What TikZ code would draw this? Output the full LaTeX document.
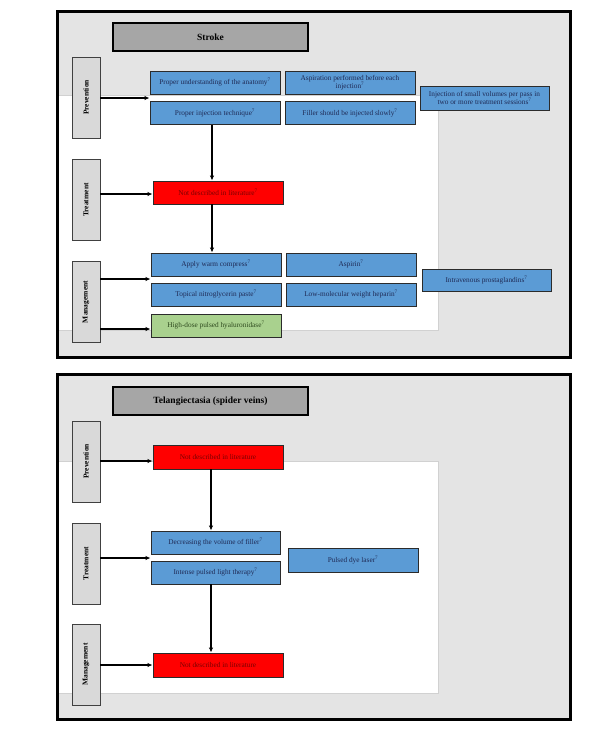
\documentclass[tikz,border=0pt]{standalone}
\usepackage{fontspec}
\setmainfont{Liberation Serif}
\usetikzlibrary{arrows.meta}
\definecolor{bgray}{HTML}{E4E4E4}
\definecolor{hdrgray}{HTML}{A6A6A6}
\definecolor{lblgray}{HTML}{D9D9D9}
\definecolor{boxblue}{HTML}{5B9BD5}
\definecolor{txtblue}{HTML}{1F2A55}
\definecolor{boxred}{HTML}{FF0000}
\definecolor{txtred}{HTML}{7A0000}
\definecolor{boxgreen}{HTML}{A9D18E}
\definecolor{txtgreen}{HTML}{2E4A1E}
\definecolor{edgedark}{HTML}{2B2B2B}
\tikzset{
  panel/.style={draw=black, line width=3pt, fill=bgray},
  whitearea/.style={draw=black!18, line width=0.6pt, fill=white},
  hdr/.style={draw=black, line width=1.5pt, fill=hdrgray, minimum width=195pt, minimum height=28pt, inner sep=0pt, font=\fontsize{9.5}{11}\selectfont\bfseries},
  lbl/.style={draw=black!75, line width=0.9pt, fill=lblgray, minimum width=81pt, minimum height=28pt, inner sep=0pt, rotate=90, font=\fontsize{7.5}{8.5}\selectfont\bfseries, text=black},
  basebox/.style={draw=edgedark, line width=0.9pt, minimum width=130pt, minimum height=23pt, inner sep=0pt, align=center, font=\fontsize{7.3}{8.3}\selectfont},
  bluebox/.style={basebox, fill=boxblue, text=txtblue},
  redbox/.style={basebox, fill=boxred, text=txtred},
  greenbox/.style={basebox, fill=boxgreen, text=txtgreen},
  arr/.style={draw=black, line width=1.3pt, -{Latex[length=5pt,width=4.5pt]}}
}
\newcommand{\rf}{\textsuperscript{7}}
\begin{document}
\begin{tikzpicture}[x=1pt,y=-1pt]
\useasboundingbox (0,0) rectangle (605,732);
% ---------------- Top panel: Stroke ----------------
\path[panel] (57,11) rectangle (570,357);
\path[whitearea] (58.5,95) rectangle (438,330);
\draw[black, line width=3pt] (57,11) rectangle (570,357);
\node[hdr] (h1) at (210.5,37) {Stroke};
\node[lbl] (prev1) at (86,97.5) {Prevention};
\node[lbl] (treat1) at (86,200) {Treatment};
\node[lbl] (mgmt1) at (86,302) {Management};

\node[bluebox] (a1) at (215,82.5) {Proper understanding of the anatomy\rf};
\node[bluebox] (a2) at (215,113) {Proper injection technique\rf};
\node[bluebox] (b1) at (350,82.5) {Aspiration performed before each\\injection\rf};
\node[bluebox] (b2) at (350,113) {Filler should be injected slowly\rf};
\node[bluebox, minimum width=129pt, minimum height=24pt] (c1) at (484.5,98) {Injection of small volumes per pass in\\two or more treatment sessions\rf};

\node[redbox] (red1) at (218,192.5) {Not described in literature\rf};

\node[bluebox] (m1) at (216,264.5) {Apply warm compress\rf};
\node[bluebox] (m2) at (216,294.5) {Topical nitroglycerin paste\rf};
\node[greenbox] (m3) at (216,325.5) {High-dose pulsed hyaluronidase\rf};
\node[bluebox] (n1) at (351,264.5) {Aspirin\rf};
\node[bluebox] (n2) at (351,294.5) {Low-molecular weight heparin\rf};
\node[bluebox, minimum width=129pt, minimum height=22pt] (o1) at (486.5,280) {Intravenous prostaglandins\rf};

\coordinate (vx1) at (212,0);
\coordinate (ya) at (0,98);
\coordinate (yb) at (0,194);
\coordinate (yc) at (0,279);
\coordinate (yd) at (0,329);
\draw[arr] (prev1.south |- ya) -- (a1.west |- ya);
\draw[arr] (treat1.south |- yb) -- (red1.west |- yb);
\draw[arr] (mgmt1.south |- yc) -- (m1.west |- yc);
\draw[arr] (mgmt1.south |- yd) -- (m3.west |- yd);
\draw[arr] (a2.south -| vx1) -- (red1.north -| vx1);
\draw[arr] (red1.south -| vx1) -- (m1.north -| vx1);

% ---------------- Bottom panel: Telangiectasia ----------------
\path[panel] (57,374) rectangle (570,719);
\path[whitearea] (58.5,461) rectangle (438,693);
\draw[black, line width=3pt] (57,374) rectangle (570,719);
\node[hdr] (h2) at (210.5,401) {Telangiectasia (spider veins)};
\node[lbl] (prev2) at (86,461.5) {Prevention};
\node[lbl] (treat2) at (86,563.5) {Treatment};
\node[lbl] (mgmt2) at (86,664.5) {Management};

\node[redbox, minimum height=24pt] (r1) at (218,457) {Not described in literature};
\node[bluebox, minimum width=129pt] (d1) at (215.5,542.5) {Decreasing the volume of filler\rf};
\node[bluebox, minimum width=129pt] (d2) at (215.5,572.5) {Intense pulsed light therapy\rf};
\node[bluebox, minimum height=24pt] (pd) at (353,560) {Pulsed dye laser\rf};
\node[redbox, minimum height=24pt] (r2) at (218,665) {Not described in literature};

\coordinate (vx2) at (211,0);
\coordinate (ye) at (0,461);
\coordinate (yf) at (0,558);
\coordinate (yg) at (0,665);
\draw[arr] (prev2.south |- ye) -- (r1.west |- ye);
\draw[arr] (treat2.south |- yf) -- (d1.west |- yf);
\draw[arr] (mgmt2.south |- yg) -- (r2.west |- yg);
\draw[arr] (r1.south -| vx2) -- (d1.north -| vx2);
\draw[arr] (d2.south -| vx2) -- (r2.north -| vx2);
\end{tikzpicture}
\end{document}
